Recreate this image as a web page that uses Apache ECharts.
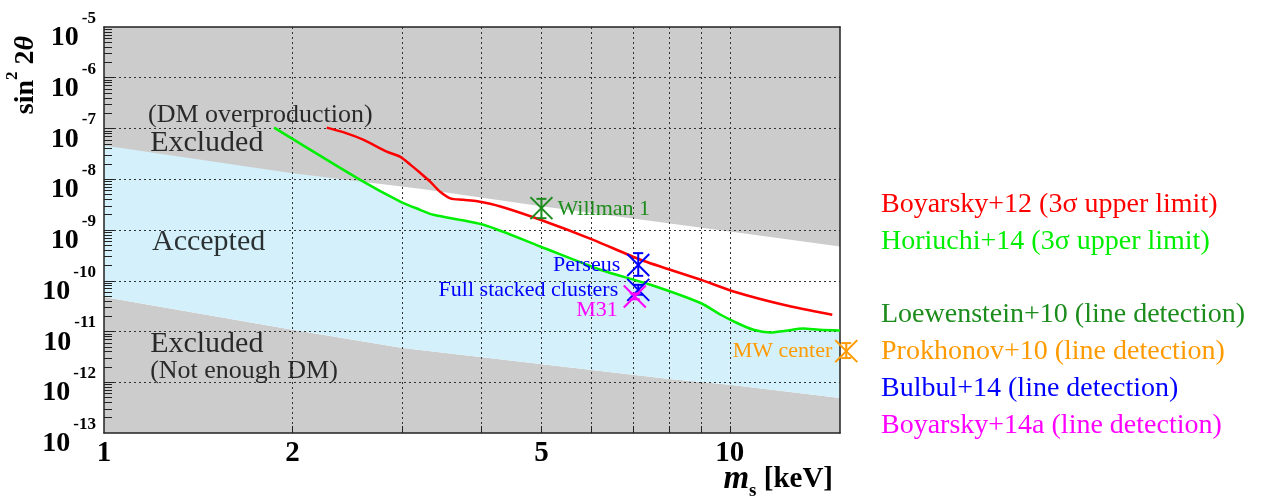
<!DOCTYPE html>
<html>
<head>
<meta charset="utf-8">
<script src="https://cdn.jsdelivr.net/npm/echarts@6/dist/echarts.min.js"></script>
<style>
  html, body { margin: 0; padding: 0; background: #ffffff; }
  #chart { width: 1270px; height: 504px; }
</style>
</head>
<body>
<div id="chart"></div>
<script>
// Sterile neutrino parameter space: mass m_s [keV] vs mixing angle sin^2 2θ

const X_MIN = 1, X_MAX = 15;
const Y_MIN = 1e-13, Y_MAX = 1e-5;

// tick values
const xTickValues = [2, 3, 4, 5, 6, 7, 8, 9, 10];
const xLabelValues = [1, 2, 5, 10];
const yDecades = [1e-13, 1e-12, 1e-11, 1e-10, 1e-9, 1e-8, 1e-7, 1e-6, 1e-5];
const yGridDecades = [1e-12, 1e-11, 1e-10, 1e-9, 1e-8, 1e-7, 1e-6];
const yMinorValues = [];
for (let p = -13; p < -5; p++) {
  for (let k = 2; k <= 9; k++) yMinorValues.push(k * Math.pow(10, p));
}

// upper bound of the allowed band (DM overproduction)
const upperX = [1, 2, 3.2, 5, 10, 15];
const upperY = [4.6e-8, 1.31e-8, 6.5e-9, 2.93e-9, 9.3e-10, 4.73e-10];

// lower bound of the allowed band (not enough DM)
const lowerX = [1, 2, 3, 8, 10, 15];
const lowerY = [4.78e-11, 1.08e-11, 4.73e-12, 1.16e-12, 8.97e-13, 4.91e-13];

// Boyarsky+12 3σ upper limit
const redX = [2.27, 2.43, 2.60, 2.83, 2.975, 3.09, 3.20, 3.32, 3.445, 3.575, 3.75, 3.95, 4.30, 4.98, 6.05, 7.20, 8.98, 10.14, 12.18, 14.58];
const redY = [1.04e-7, 8.2e-8, 5.97e-8, 3.51e-8, 2.76e-8, 1.92e-8, 1.34e-8, 9.0e-9, 5.65e-9, 4.21e-9, 3.93e-9, 3.67e-9, 2.9e-9, 1.59e-9, 6.41e-10, 2.59e-10, 1.05e-10, 6.15e-11, 3.37e-11, 2.14e-11];

// Horiuchi+14 3σ upper limit
const greenX = [1.87, 2.567, 2.975, 3.20, 3.36, 4.04, 4.98, 6.21, 7.47, 8.98, 9.67, 10.27, 10.91, 11.6, 12.3, 13.1, 13.9, 15];
const greenY = [1.04e-7, 9.73e-9, 3.64e-9, 2.5e-9, 1.99e-9, 1.27e-9, 4.73e-10, 1.65e-10, 8.34e-11, 3.64e-11, 2.14e-11, 1.47e-11, 1.08e-11, 9.6e-12, 1.04e-11, 1.14e-11, 1.08e-11, 1.05e-11];

// line detections: energy [keV], mixing, lower / upper error
const loewE = [5.0], loewMix = [2.7e-9], loewLo = [1.71e-9], loewHi = [4.11e-9];
const loewLabels = ['Willman 1'];
const prokE = [15.35], prokMix = [4.1e-12], prokLo = [3.0e-12], prokHi = [5.9e-12];
const prokLabels = ['MW center'];
const bulbulE = [7.14, 7.14], bulbulMix = [2.05e-10, 6.6e-11], bulbulLo = [1.25e-10, 5.3e-11], bulbulHi = [3.5e-10, 8.3e-11];
const bulbulLabels = ['Perseus', 'Full stacked clusters'];
const boy14E = [7.05], boy14Mix = [4.9e-11], boy14Lo = [4.3e-11], boy14Hi = [5.6e-11];
const boy14Labels = ['M31'];

// region captions
const regionTexts = ['(DM overproduction)', 'Excluded', 'Accepted', 'Excluded', '(Not enough DM)'];
const regionAnchorX = [1.176, 1.185, 1.193, 1.185, 1.185];
const regionAnchorY = [1.85e-7, 5.2e-8, 5.86e-10, 5.75e-12, 1.69e-12];
const regionLarge = [false, true, true, true, false];

const SERIF = '"Liberation Serif", "DejaVu Serif", serif';

const C_GRAY = '#cccccc';
const C_BLUE_FILL = '#d4f1fb';
const C_RED = '#ff0000';
const C_GREEN = '#00ee00';
const C_DKGREEN = '#1c8c1c';
const C_ORANGE = '#ff9a00';
const C_BLUE = '#0000ff';
const C_MAGENTA = '#ff00ff';

const zip = (xs, ys) => xs.map((x, i) => [x, ys[i]]);

function renderRegions(params, api) {
  const pt = (x, y) => api.coord([x, y]);
  const top = [pt(X_MAX, Y_MAX), pt(X_MIN, Y_MAX)];
  const bg = [pt(X_MIN, Y_MIN), pt(X_MAX, Y_MIN)].concat(top);
  const lowerPts = lowerX.map((x, i) => pt(x, lowerY[i]));
  const whitePts = lowerPts.concat(top);
  const greenRev = greenX.map((x, i) => pt(x, greenY[i])).reverse();
  const bluePts = lowerPts.concat(greenRev, [pt(greenX[0], Y_MAX), pt(X_MIN, Y_MAX)]);
  const grayPts = upperX.map((x, i) => pt(x, upperY[i])).concat(top);
  return {
    type: 'group',
    children: [
      { type: 'polygon', shape: { points: bg }, style: { fill: C_GRAY } },
      { type: 'polygon', shape: { points: whitePts }, style: { fill: '#ffffff' } },
      { type: 'polygon', shape: { points: bluePts }, style: { fill: C_BLUE_FILL } },
      { type: 'polygon', shape: { points: grayPts }, style: { fill: C_GRAY } }
    ]
  };
}

// X-shaped marker with vertical error bar and a text tag
function makeMarkerRender(color, labels, tagStyle) {
  return function (params, api) {
    const c = api.coord([api.value(0), api.value(1)]);
    const lo = api.coord([api.value(0), api.value(2)]);
    const hi = api.coord([api.value(0), api.value(3)]);
    const h = 11, cap = 5;
    const st = { stroke: color, lineWidth: 2 };
    const t = tagStyle[params.dataIndex];
    return {
      type: 'group',
      children: [
        { type: 'line', shape: { x1: c[0] - h, y1: c[1] - h, x2: c[0] + h, y2: c[1] + h }, style: st },
        { type: 'line', shape: { x1: c[0] - h, y1: c[1] + h, x2: c[0] + h, y2: c[1] - h }, style: st },
        { type: 'line', shape: { x1: c[0], y1: hi[1], x2: c[0], y2: lo[1] }, style: st },
        { type: 'line', shape: { x1: c[0] - cap, y1: hi[1], x2: c[0] + cap, y2: hi[1] }, style: st },
        { type: 'line', shape: { x1: c[0] - cap, y1: lo[1], x2: c[0] + cap, y2: lo[1] }, style: st },
        {
          type: 'text', x: c[0] + t.dx, y: c[1] + t.dy,
          style: {
            text: labels[params.dataIndex], fill: color,
            font: '22px ' + SERIF, align: t.align, verticalAlign: 'middle'
          }
        }
      ]
    };
  };
}

function detectionSeries(name, color, E, mix, lo, hi, labels, tagStyle) {
  return {
    name: name,
    type: 'custom',
    coordinateSystem: 'cartesian2d',
    xAxisIndex: 0, yAxisIndex: 0,
    z: 6,
    clip: false,
    renderItem: makeMarkerRender(color, labels, tagStyle),
    data: E.map((e, i) => [e, mix[i], lo[i], hi[i]]),
    encode: { x: 0, y: 1 },
    silent: true
  };
}

const chart = echarts.init(document.getElementById('chart'), null, { renderer: 'canvas' });

const gridDotted = { show: true, lineStyle: { color: '#333333', width: 1, type: [2, 3] } };
const legendText = { fontFamily: SERIF, fontSize: 28, lineHeight: 30 };

const option = {
  animation: false,
  backgroundColor: '#ffffff',
  grid: { left: 104, top: 27, right: 430, bottom: 71, containLabel: false },
  xAxis: [
    {
      type: 'log', logBase: 10, min: X_MIN, max: X_MAX, position: 'bottom', z: 3,
      axisLine: { show: true, onZero: false, lineStyle: { color: '#222', width: 1.5 } },
      axisTick: { show: true, inside: true, length: 7, customValues: xTickValues, lineStyle: { color: '#222', width: 1 } },
      minorTick: { show: false },
      splitLine: gridDotted,
      axisLabel: {
        customValues: xLabelValues, margin: 6, color: '#000',
        fontFamily: SERIF, fontWeight: 'bold', fontSize: 29,
        formatter: v => String(Math.round(v))
      }
    },
    {
      type: 'log', logBase: 10, min: X_MIN, max: X_MAX, position: 'top', z: 3,
      axisLine: { show: true, onZero: false, lineStyle: { color: '#222', width: 1.5 } },
      axisTick: { show: false }, axisLabel: { show: false }, splitLine: { show: false }
    }
  ],
  yAxis: [
    {
      type: 'log', logBase: 10, min: Y_MIN, max: Y_MAX, position: 'left', z: 3,
      axisLine: { show: true, onZero: false, lineStyle: { color: '#222', width: 1.5 } },
      axisTick: { show: true, inside: true, length: 10, customValues: yGridDecades, lineStyle: { color: '#222', width: 1 } },
      splitLine: gridDotted,
      axisLabel: {
        customValues: yDecades, margin: 8, color: '#000',
        formatter: v => '{b|10}{e|' + Math.round(Math.log10(v)) + '}',
        rich: {
          b: { fontFamily: SERIF, fontWeight: 'bold', fontSize: 28, lineHeight: 50, verticalAlign: 'bottom', color: '#000' },
          e: { fontFamily: SERIF, fontWeight: 'bold', fontSize: 17, lineHeight: 50, verticalAlign: 'top', color: '#000', padding: [8, 0, 0, 3] }
        }
      }
    },
    {
      type: 'log', logBase: 10, min: Y_MIN, max: Y_MAX, position: 'left', offset: 0, z: 3,
      axisLine: { show: false },
      axisTick: { show: true, inside: true, length: 8, customValues: yMinorValues, lineStyle: { color: '#222', width: 1 } },
      axisLabel: { show: false }, splitLine: { show: false }
    },
    {
      type: 'log', logBase: 10, min: Y_MIN, max: Y_MAX, position: 'right', z: 3,
      axisLine: { show: true, onZero: false, lineStyle: { color: '#222', width: 1.5 } },
      axisTick: { show: false }, axisLabel: { show: false }, splitLine: { show: false }
    }
  ],
  legend: [
    {
      orient: 'vertical', left: 871, top: 185, itemGap: 7, itemWidth: 0, itemHeight: 10,
      icon: 'none', selectedMode: false, textStyle: legendText,
      data: [
        { name: 'Boyarsky+12 (3σ upper limit)', textStyle: { color: C_RED } },
        { name: 'Horiuchi+14 (3σ upper limit)', textStyle: { color: C_GREEN } }
      ]
    },
    {
      orient: 'vertical', left: 871, top: 295, itemGap: 7, itemWidth: 0, itemHeight: 10,
      icon: 'none', selectedMode: false, textStyle: legendText,
      data: [
        { name: 'Loewenstein+10 (line detection)', textStyle: { color: C_DKGREEN } },
        { name: 'Prokhonov+10 (line detection)', textStyle: { color: C_ORANGE } },
        { name: 'Bulbul+14 (line detection)', textStyle: { color: C_BLUE } },
        { name: 'Boyarsky+14a (line detection)', textStyle: { color: C_MAGENTA } }
      ]
    }
  ],
  graphic: [
    {
      type: 'text', x: 22, y: 75, rotation: Math.PI / 2, z: 10,
      style: {
        text: '{n|sin}{s|2}{n| 2}{t|θ}',
        align: 'center', verticalAlign: 'middle',
        rich: {
          n: { fontFamily: SERIF, fontWeight: 'bold', fontSize: 28, lineHeight: 36, verticalAlign: 'bottom', fill: '#000' },
          s: { fontFamily: SERIF, fontWeight: 'bold', fontSize: 17, lineHeight: 36, verticalAlign: 'top', fill: '#000' },
          t: { fontFamily: SERIF, fontWeight: 'bold', fontStyle: 'italic', fontSize: 28, lineHeight: 36, verticalAlign: 'bottom', fill: '#000' }
        }
      }
    },
    {
      type: 'text', x: 833, y: 482, z: 10,
      style: {
        text: '{m|m}{s|s}{n| [keV]}',
        align: 'right', verticalAlign: 'middle',
        rich: {
          m: { fontFamily: SERIF, fontWeight: 'bold', fontStyle: 'italic', fontSize: 33, lineHeight: 38, verticalAlign: 'top', fill: '#000' },
          s: { fontFamily: SERIF, fontWeight: 'bold', fontSize: 19, lineHeight: 38, verticalAlign: 'bottom', fill: '#000' },
          n: { fontFamily: SERIF, fontWeight: 'bold', fontSize: 29, lineHeight: 38, verticalAlign: 'top', fill: '#000', padding: [2, 0, 0, 0] }
        }
      }
    }
  ],
  series: [
    {
      name: 'regions', type: 'custom', coordinateSystem: 'cartesian2d', z: 1, silent: true,
      renderItem: renderRegions, data: [[X_MIN, Y_MIN]]
    },
    {
      name: 'captions', type: 'scatter', z: 4, silent: true,
      symbolSize: 0,
      data: regionAnchorX.map((x, i) => ({
        value: [x, regionAnchorY[i]], name: regionTexts[i],
        label: { fontSize: regionLarge[i] ? 30 : 26 }
      })),
      label: {
        show: true, position: 'right', distance: 0, color: '#000',
        fontFamily: SERIF, fontSize: 26,
        formatter: p => p.name
      }
    },
    {
      name: 'Boyarsky+12 (3σ upper limit)', type: 'line', z: 5, silent: true,
      data: zip(redX, redY), showSymbol: false, smooth: 0.25,
      lineStyle: { color: C_RED, width: 2.5 }, itemStyle: { color: C_RED }
    },
    {
      name: 'Horiuchi+14 (3σ upper limit)', type: 'line', z: 5, silent: true,
      data: zip(greenX, greenY), showSymbol: false, smooth: 0.25,
      lineStyle: { color: C_GREEN, width: 2.5 }, itemStyle: { color: C_GREEN }
    },
    detectionSeries('Loewenstein+10 (line detection)', C_DKGREEN, loewE, loewMix, loewLo, loewHi, loewLabels,
      [{ dx: 16, dy: 1, align: 'left' }]),
    detectionSeries('Prokhonov+10 (line detection)', C_ORANGE, prokE, prokMix, prokLo, prokHi, prokLabels,
      [{ dx: -14, dy: 0, align: 'right' }]),
    detectionSeries('Bulbul+14 (line detection)', C_BLUE, bulbulE, bulbulMix, bulbulLo, bulbulHi, bulbulLabels,
      [{ dx: -18, dy: 0, align: 'right' }, { dx: -20, dy: 0, align: 'right' }]),
    detectionSeries('Boyarsky+14a (line detection)', C_MAGENTA, boy14E, boy14Mix, boy14Lo, boy14Hi, boy14Labels,
      [{ dx: -17, dy: 14, align: 'right' }])
  ]
};

chart.setOption(option);
</script>
</body>
</html>
